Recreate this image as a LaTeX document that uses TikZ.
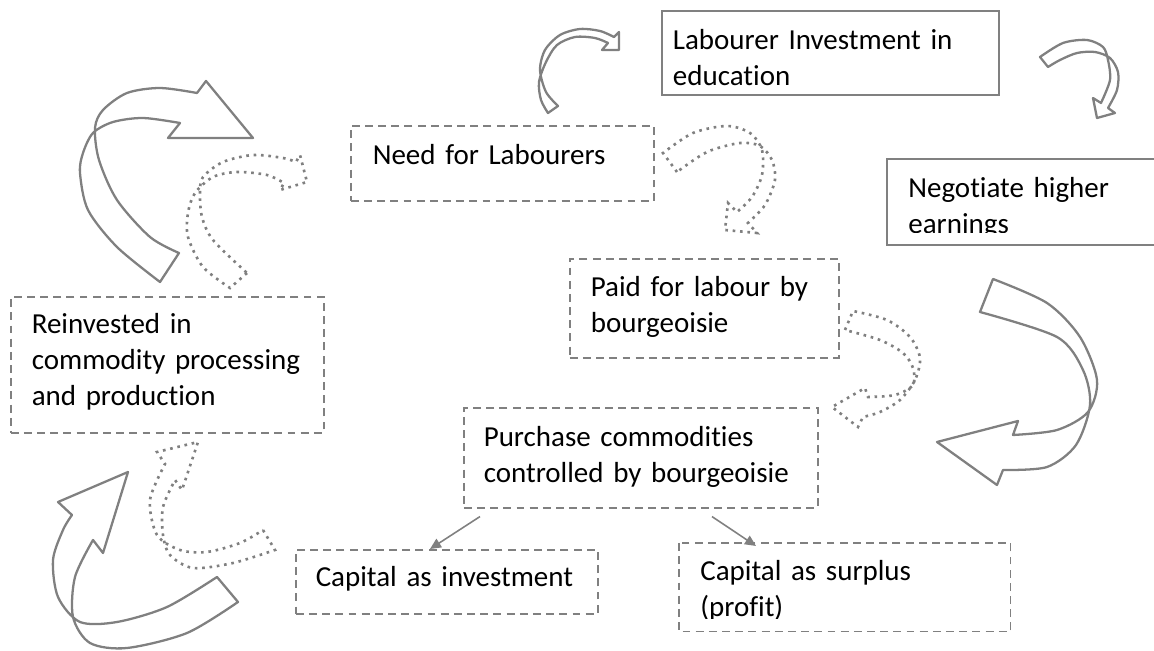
\documentclass[tikz,border=0pt]{standalone}
\usepackage{fontspec}
\setmainfont{Carlito}[Ligatures=CommonOff]
\usetikzlibrary{arrows.meta,calc}

\begin{document}
\begin{tikzpicture}[x=0.02cm,y=-0.02cm]

  \definecolor{linegray}{RGB}{128,128,128}

  \tikzset{
    textbox/.style={anchor=north west, inner ysep=0pt, align=left,
      font=\fontsize{16.5}{20.5}\selectfont},
    dashbox/.style={textbox, draw=linegray, line width=0.9pt, dash pattern=on 4.5pt off 3pt},
    solidbox/.style={textbox, draw=linegray, line width=1pt},
    bigarrow/.style={draw=linegray, line width=1.3pt, line join=round},
    dotarrow/.style={draw=linegray, line width=1.5pt, dash pattern=on 1.5pt off 2.7pt},
    link/.style={draw=linegray, line width=0.9pt, -{Triangle[length=0.22cm,width=0.2cm]}}
  }

  \useasboundingbox (0,0) rectangle (1154,651);

  % boxes
  \node[solidbox, inner xsep=0.22cm, text width=6.30cm, text height=0.78cm, text depth=0.90cm]
    (labour) at (661,10) {Labourer Investment in\\education};
  \node[dashbox, inner xsep=0.44cm, text width=5.18cm, text height=0.78cm, text depth=0.72cm]
    (need) at (350,125) {Need for Labourers};
  \node[dashbox, inner xsep=0.42cm, text width=4.54cm, text height=0.76cm, text depth=1.22cm]
    (paid) at (569,258) {Paid for labour by\\bourgeoisie};
  \node[dashbox, inner xsep=0.42cm, text width=5.42cm, text height=0.74cm, text depth=1.98cm]
    (reinvest) at (10,296) {Reinvested in\\commodity processing\\and production};
  \node[dashbox, inner xsep=0.40cm, text width=6.28cm, text height=0.78cm, text depth=1.22cm]
    (purchase) at (463,407) {Purchase commodities\\controlled by bourgeoisie};
  \node[dashbox, inner xsep=0.40cm, text width=5.24cm, text height=0.74cm, text depth=0.54cm]
    (capinv) at (295,549) {Capital as investment};

  % text cut off at the bottom of these two
  \begin{scope}
    \clip (887,159) rectangle (1154,233);
    \node[textbox, inner xsep=0.42cm, text width=4.62cm, text height=0.76cm, text depth=0.94cm]
      (negotiate) at (887,159) {Negotiate higher\\earnings};
  \end{scope}
  \draw[draw=linegray, line width=1pt] (negotiate.north west) rectangle (negotiate.south east);

  \begin{scope}
    \clip (679,543) rectangle (1010,619);
    \node[textbox, inner xsep=0.42cm, text width=5.78cm, text height=0.74cm, text depth=1.02cm]
      (capsur) at (679,543) {Capital as surplus\\(profit)};
  \end{scope}
  \draw[draw=linegray, line width=0.9pt, dash pattern=on 4.5pt off 3pt]
    (capsur.north west) rectangle (capsur.south east);

  % split of the capital
  \draw[link] ($(purchase.south west)+(17,8)$) -- ($(capinv.north west)+(135,0)$);
  \draw[link] ($(purchase.south west)+(249,8)$) -- ($(capsur.north west)+(77,3)$);

  % big arrow, top left
  \draw[bigarrow] (179,253) -- (160,282)
    -- plot[smooth] coordinates {(160,282) (117,247) (88,210) (80,173) (83,153) (93,133) (113,122) (143,118) (180,123)}
    -- (168,138) -- (253,138) -- (206,81) -- (197,93)
    -- plot[smooth] coordinates {(197,93) (160,88) (127,93) (103,110) (95,128) (99,160) (117,200) (150,237) (179,253)}
    -- cycle;

  % dotted arrow into need
  \draw[dotarrow] (247,273) -- (230,288)
    -- plot[smooth] coordinates {(230,288) (203,267) (188,237) (188,213) (195,193) (213,177) (237,172) (267,175) (284,183)}
    -- (280,190) -- (307,182) -- (300,155) -- (296,162)
    -- plot[smooth] coordinates {(296,162) (283,158) (253,155) (223,162) (203,177) (200,193) (202,217) (213,240) (247,273)}
    -- cycle;

  % small arrow, need to labour
  \draw[bigarrow] (548,113) -- (558,106)
    -- plot[smooth] coordinates {(558,106) (546,92) (540,70) (545,50) (560,35) (580,29) (600,31) (614,37)}
    -- (619,32) -- (619,50) -- (602,50) -- (608,43)
    -- plot[smooth] coordinates {(608,43) (595,38) (575,37) (557,45) (546,62) (539,82) (541,100) (548,113)}
    -- cycle;

  % small arrow, labour to negotiate
  \draw[bigarrow] (1048,67) -- (1040,57)
    -- plot[smooth] coordinates {(1040,57) (1063,43) (1087,40) (1103,47) (1108,60) (1110,80) (1101,103)}
    -- (1093,98) -- (1097,118) -- (1115,113) -- (1108,108)
    -- plot[smooth] coordinates {(1108,108) (1117,90) (1118,72) (1110,58) (1095,52) (1077,53) (1060,60) (1048,67)}
    -- cycle;

  % dotted arrow, need to paid
  \draw[dotarrow] (677,172) -- (663,153)
    -- plot[smooth] coordinates {(663,153) (693,133) (727,126) (750,133) (762,150) (762,175) (752,197) (737,212)}
    -- (728,203) -- (725,230) -- (757,233) -- (748,223)
    -- plot[smooth] coordinates {(748,223) (765,205) (775,180) (772,160) (760,146) (740,143) (707,152) (677,172)}
    -- cycle;

  % big arrow, right
  \draw[bigarrow] (980,312) -- (993,279)
    -- plot[smooth] coordinates {(993,279) (1047,303) (1080,337) (1097,380) (1088,412) (1057,430) (1013,435)}
    -- (1018,421) -- (937,442) -- (997,485) -- (1003,470)
    -- plot[smooth] coordinates {(1003,470) (1047,467) (1076,445) (1090,405) (1083,370) (1057,337) (980,312)}
    -- cycle;

  % dotted arrow, paid to purchase
  \draw[dotarrow] (845,330) -- (853,311)
    -- plot[smooth] coordinates {(853,311) (887,320) (910,337) (920,358) (915,380) (900,400) (880,412) (863,417)}
    -- (858,427) -- (832,407) -- (865,388) -- (868,397)
    -- plot[smooth] coordinates {(868,397) (895,395) (913,385) (913,368) (903,353) (880,340) (845,330)}
    -- cycle;

  % dotted arrow, capital to reinvest
  \draw[dotarrow] (263,530) -- (275,550)
    -- plot[smooth] coordinates {(275,550) (233,563) (193,568) (170,555) (163,535) (163,507) (175,480)}
    -- (182,490) -- (198,442) -- (157,452) -- (165,464)
    -- plot[smooth] coordinates {(165,464) (150,500) (157,535) (180,550) (207,552) (240,543) (263,530)}
    -- cycle;

  % big arrow, bottom left
  \draw[bigarrow] (238,602) -- (217,577)
    -- plot[smooth] coordinates {(217,577) (167,607) (117,622) (80,622) (58,597) (53,560) (63,530) (72,515)}
    -- (58,502) -- (128,472) -- (103,553) -- (93,540)
    -- plot[smooth] coordinates {(93,540) (75,577) (73,617) (90,643) (127,648) (187,633) (238,602)}
    -- cycle;

\end{tikzpicture}
\end{document}
